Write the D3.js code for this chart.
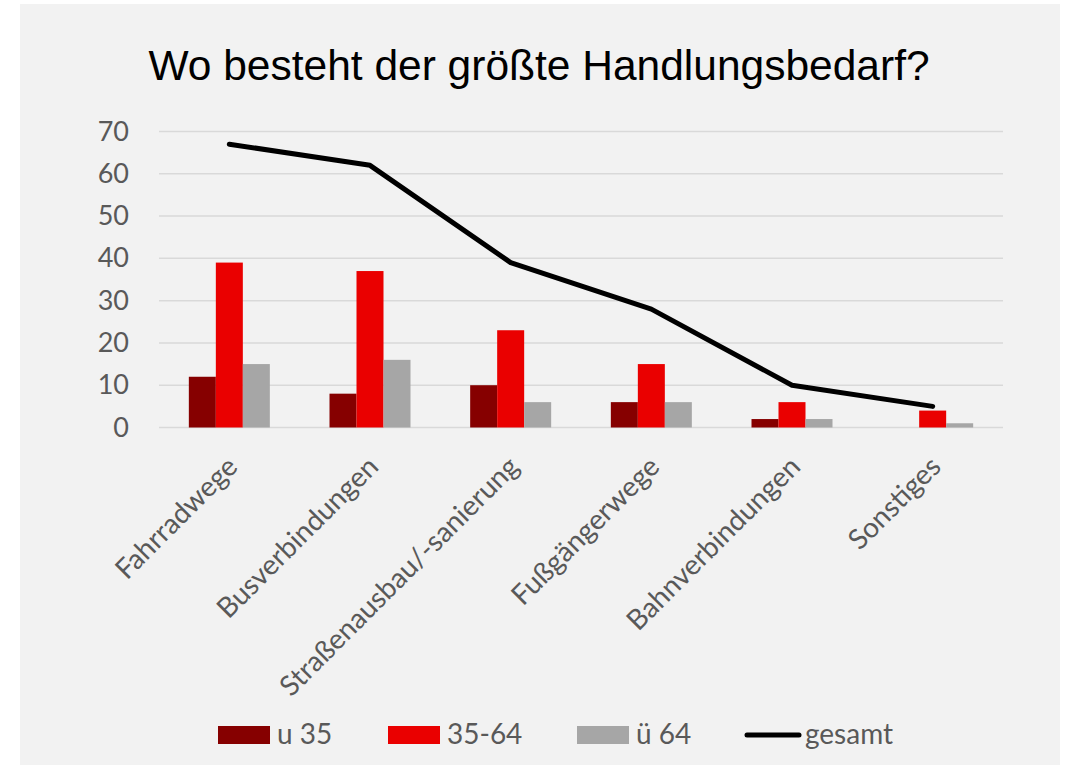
<!DOCTYPE html>
<html>
<head>
<meta charset="utf-8">
<script src="https://cdn.jsdelivr.net/npm/d3@7"></script>
<style>
  body { margin: 0; background: #fff; }
  text { font-family: Lato, "Open Sans", sans-serif; }
</style>
</head>
<body>
<script>
// daten
var categories = ["Fahrradwege", "Busverbindungen", "Straßenausbau/-sanierung", "Fußgängerwege", "Bahnverbindungen", "Sonstiges"];
var u35 = [12, 8, 10, 6, 2, 0];
var mid = [39, 37, 23, 15, 6, 4];
var ue64 = [15, 16, 6, 6, 2, 1];
var gesamt = [67, 62, 39, 28, 10, 5];
var seriesNames = ["u 35", "35-64", "ü 64"];
var colors = ["#860000", "#ea0000", "#a6a6a6"];
var yTicks = [0, 10, 20, 30, 40, 50, 60, 70];

var width = 1071, height = 767;
var margin = {top: 131.5, left: 159, right: 68, bottom: 339.5};
var w = width - margin.left - margin.right;
var h = height - margin.top - margin.bottom;

var svg = d3.select("body").append("svg")
  .attr("width", width).attr("height", height);

// hintergrund
svg.append("rect").attr("x", 20).attr("y", 4).attr("width", 1040).attr("height", 761).attr("fill", "#f2f2f2");

// titel
svg.append("text").attr("x", 539).attr("y", 80).attr("text-anchor", "middle")
  .style("font-family", "'Liberation Sans', Arial, sans-serif").style("font-size", "42.5px").attr("fill", "#000")
  .text("Wo besteht der größte Handlungsbedarf?");

var g = svg.append("g").attr("transform", "translate(" + margin.left + "," + margin.top + ")");

var x = d3.scaleBand().domain(categories).range([0, w]).paddingInner(0).paddingOuter(0);
var y = d3.scaleLinear().domain([0, 70]).range([h, 0]);
var groupW = 81;
var x1 = d3.scaleBand().domain(seriesNames).range([0, groupW]);

// gitterlinien
g.selectAll(".grid").data(yTicks).enter().append("line")
  .attr("x1", 0).attr("x2", w)
  .attr("y1", function(d){ return y(d); }).attr("y2", function(d){ return y(d); })
  .attr("stroke", "#d9d9d9").attr("stroke-width", 1.5);

// y achse
var yAxis = d3.axisLeft(y).tickValues(yTicks).tickSize(0).tickPadding(30);
var ya = g.append("g").call(yAxis);
ya.select(".domain").remove();
ya.selectAll("text").attr("fill", "#595959").style("font-size", "27px").style("font-family", "Lato, sans-serif");

// balken
var data = [u35, mid, ue64];
data.forEach(function(vals, si){
  g.selectAll(".bar" + si).data(vals).enter().append("rect")
    .attr("x", function(d, i){ return x(categories[i]) + (x.bandwidth() - groupW) / 2 + x1(seriesNames[si]); })
    .attr("width", x1.bandwidth())
    .attr("y", function(d){ return y(d); })
    .attr("height", function(d){ return h - y(d); })
    .attr("fill", colors[si]);
});

// linie gesamt
var line = d3.line()
  .x(function(d, i){ return x(categories[i]) + x.bandwidth() / 2; })
  .y(function(d){ return y(d); });
g.append("path").datum(gesamt).attr("d", line)
  .attr("fill", "none").attr("stroke", "#000").attr("stroke-width", 5)
  .attr("stroke-linecap", "round").attr("stroke-linejoin", "round");

// x achse labels
g.selectAll(".xl").data(categories).enter().append("text")
  .attr("transform", function(d){ return "translate(" + (x(d) + x.bandwidth() / 2 + 3) + "," + (h + 34) + ") rotate(-45)"; })
  .attr("text-anchor", "end").attr("dy", "0.35em")
  .attr("fill", "#595959").style("font-size", "28px")
  .text(function(d){ return d; });

// legende
var legend = [
  {name: "u 35", color: colors[0], x: 218, type: "rect"},
  {name: "35-64", color: colors[1], x: 388, type: "rect"},
  {name: "ü 64", color: colors[2], x: 577, type: "rect"},
  {name: "gesamt", color: "#000", x: 745, type: "line"}
];
var lg = svg.selectAll(".leg").data(legend).enter().append("g");
lg.each(function(d){
  var s = d3.select(this);
  if (d.type == "rect") {
    s.append("rect").attr("x", d.x).attr("y", 726).attr("width", 52).attr("height", 18).attr("fill", d.color);
  } else {
    s.append("line").attr("x1", d.x + 2).attr("x2", d.x + 54).attr("y1", 735).attr("y2", 735)
      .attr("stroke", d.color).attr("stroke-width", 5).attr("stroke-linecap", "round");
  }
  s.append("text").attr("x", d.x + (d.type == "rect" ? 59 : 60)).attr("y", 744)
    .attr("fill", "#595959").style("font-size", "28px").text(d.name);
});
</script>
</body>
</html>
